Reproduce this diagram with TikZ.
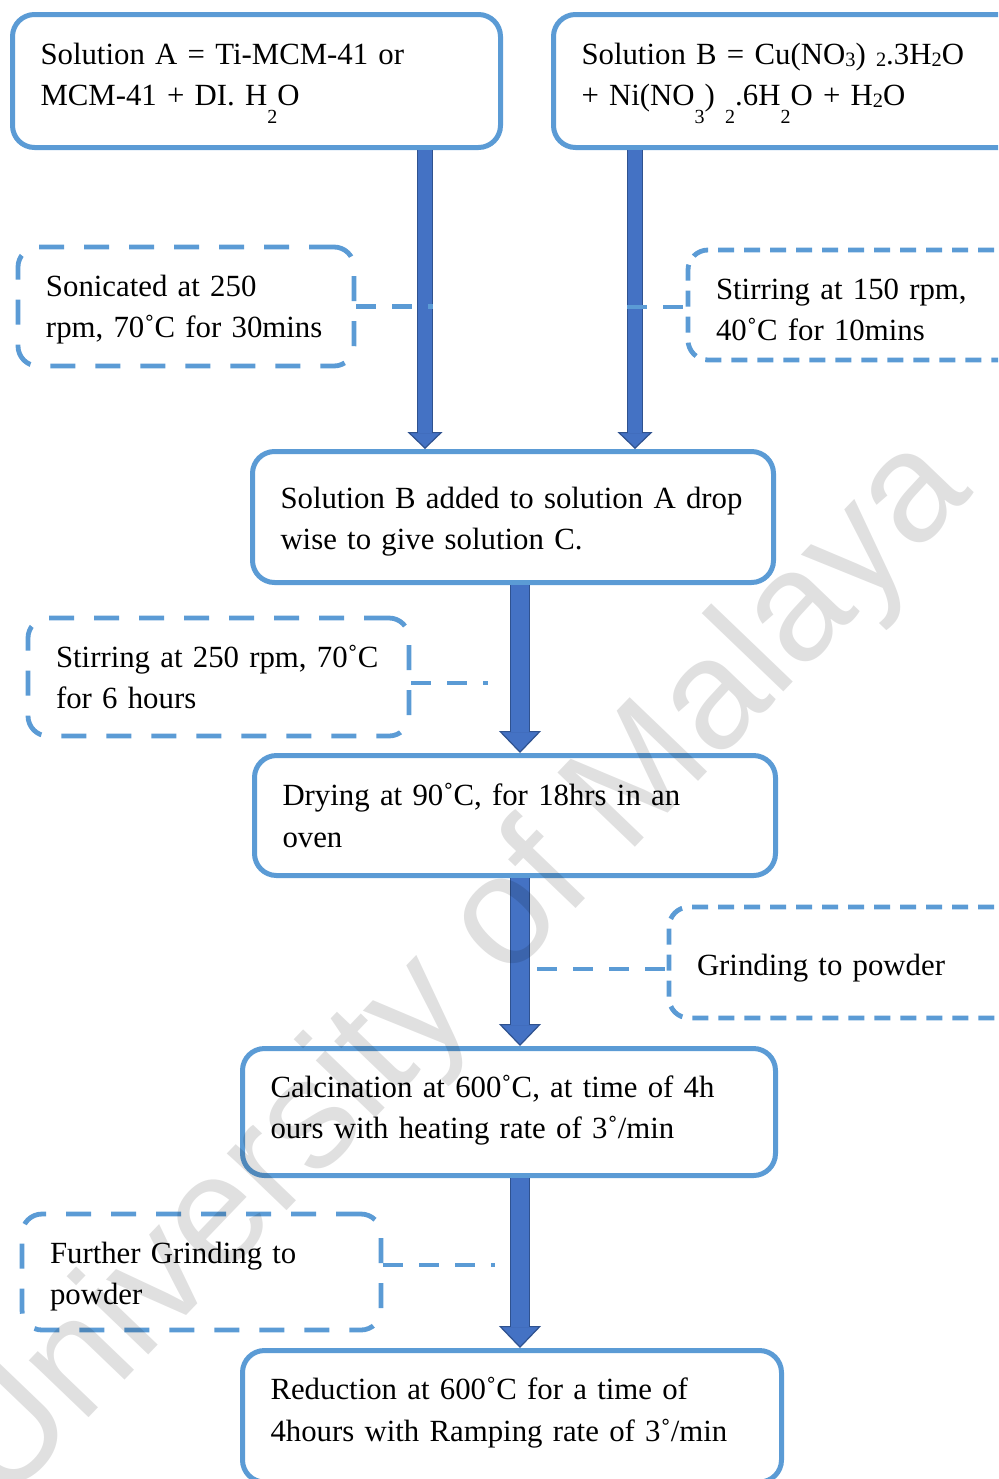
\documentclass[tikz,border=0pt]{standalone}
\usepackage{fontspec}
\setmainfont{Liberation Serif}
\newfontfamily\wmfont{Liberation Sans}
\usetikzlibrary{arrows.meta}
\definecolor{boxblue}{HTML}{5B9BD5}
\definecolor{arrowfill}{HTML}{4472C4}
\definecolor{arrowedge}{HTML}{2F528F}
\newcommand{\fs}{\fontsize{15.4pt}{20.6pt}\selectfont}
\newcommand{\lsub}[1]{\raisebox{-9pt}[0pt][0pt]{\fontsize{10pt}{10pt}\selectfont #1}}
\newcommand{\usub}[1]{\raisebox{-1pt}[0pt][0pt]{\fontsize{10.2pt}{10pt}\selectfont #1}}
\newcommand{\padb}[1]{\rule[-#1]{0pt}{#1}}
\newcommand{\padt}[1]{\rule{0pt}{#1}}

\begin{document}
\begin{tikzpicture}[
    x=0.5pt, y=-0.5pt,
    stepbox/.style={rectangle, rounded corners=11pt, draw=boxblue, line width=2.5pt, fill=white, align=left, inner xsep=14pt, inner ysep=0pt, font=\fs},
    notebox/.style={rectangle, rounded corners=10pt, draw=boxblue, line width=2.4pt, fill=white, align=left, inner xsep=14pt, inner ysep=0pt, font=\fs},
    longdash/.style={dash pattern=on 12.5pt off 10pt},
    shortdash/.style={dash pattern=on 8pt off 5pt},
    link/.style={draw=boxblue, line width=2.4pt, dash pattern=on 10pt off 8pt},
    flowthin/.style={draw=arrowedge, line width=8pt, -{Triangle[width=17.5pt, length=8.5pt, line width=0.6pt, fill=arrowfill]}, postaction={draw=arrowfill, line width=7pt, arrows=-, shorten >=8pt}},
    flowthick/.style={draw=arrowedge, line width=10pt, -{Triangle[width=21pt, length=11pt, line width=0.6pt, fill=arrowfill]}, postaction={draw=arrowfill, line width=9pt, arrows=-, shorten >=10.5pt}},
    watermark/.style={font=\wmfont\fontsize{78pt}{80pt}\selectfont, text=black, text opacity=0.12}
]
\useasboundingbox (0,0) rectangle (998,1479);
\clip (0,0) rectangle (998,1479);

% process steps
\node[stepbox, text width=216pt, minimum height=66.5pt] (solA) at (256.5,81) {Solution A = Ti-MCM-41 or\\MCM-41 + DI. H\lsub{2}O\padb{6.5pt}};
\node[stepbox, text width=215.25pt, minimum height=66.5pt] (solB) at (796.75,81) {Solution B = Cu(NO\usub{3}) \usub{2}.3H\usub{2}O\\+ Ni(NO\lsub{3}) \lsub{2}.6H\lsub{2}O + H\usub{2}O\padb{6.5pt}};
\node[stepbox, text width=232.5pt, minimum height=65.5pt] (solC) at (513,517) {\padt{15pt}\mbox{Solution B added to solution A drop}\\wise to give solution C.};
\node[stepbox, text width=232.5pt, minimum height=60pt] (dry) at (515,815.5) {Drying at 90˚C, for 18hrs in an\\oven};
\node[stepbox, text width=238.5pt, minimum height=63.5pt] (calc) at (509,1112) {Calcination at 600˚C, at time of 4h\\ours with heating rate of 3˚/min\padb{5.5pt}};
\node[stepbox, text width=241.5pt, minimum height=65.75pt] (reduce) at (512,1416.25) {Reduction at 600˚C for a time of\\4hours with Ramping rate of 3˚/min\padb{7pt}};

% conditions
\node[notebox, longdash, text width=140pt, minimum height=59.5pt] (sonic) at (186,306.5) {\padt{13.6pt}Sonicated at 250\\\mbox{rpm, 70˚C for 30mins}};
\node[notebox, shortdash, text width=148pt, minimum height=55pt] (stirB) at (864,305) {\padt{15.5pt}Stirring at 150 rpm,\\40˚C for 10mins};
\node[notebox, longdash, text width=162.5pt, minimum height=59pt] (stirC) at (218.5,677) {\mbox{Stirring at 250 rpm, 70˚C}\\for 6 hours};
\node[notebox, shortdash, text width=157.5pt, minimum height=55.5pt] (grind) at (854.5,962.5) {\padt{16.5pt}Grinding to powder};
\node[notebox, longdash, text width=151.5pt, minimum height=58pt] (regrind) at (201.5,1272) {\padt{15pt}Further Grinding to\\powder};

% arrow columns and link ends
\coordinate (ax1) at (425,0);
\coordinate (ax2) at (635,0);
\coordinate (ax3) at (520,0);
\coordinate (k1) at (433,307);
\coordinate (k2) at (627,307);
\coordinate (k3) at (488,683);
\coordinate (k4) at (537,969);
\coordinate (k5) at (495,1265);

\draw[flowthin] (solA.south -| ax1) -- (solC.north -| ax1);
\draw[flowthin] (solB.south -| ax2) -- (solC.north -| ax2);
\draw[flowthick] (solC.south -| ax3) -- (dry.north -| ax3);
\draw[flowthick] (dry.south -| ax3) -- (calc.north -| ax3);
\draw[flowthick] (calc.south -| ax3) -- (reduce.north -| ax3);

\draw[link] (sonic.east) -- (sonic.east -| k1);
\draw[link] (k2) -- (k2 -| stirB.west);
\draw[link] (k3 -| stirC.east) -- (k3);
\draw[link] (k4) -- (k4 -| grind.west);
\draw[link] (k5 -| regrind.east) -- (k5);

\node[watermark, rotate=46.2] (wm) at (460,972) {University of Malaya};
\end{tikzpicture}
\end{document}
